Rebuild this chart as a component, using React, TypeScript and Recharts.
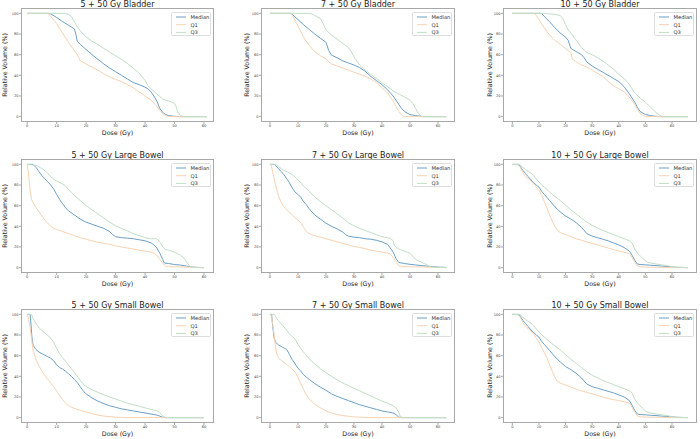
import { LineChart, Line, XAxis, YAxis } from 'recharts';

type Pt = [number, number];

// ---- Bladder ----
const bladder5Median: Pt[] = [[0, 100], [7, 100], [8, 99.5], [10, 96], [12, 92], [14, 88.5], [16, 85], [16.5, 80], [17, 73], [18, 70], [20, 65], [22, 60], [24, 55.5], [26, 51], [28, 47], [30, 43.5], [32, 40], [34, 36.5], [36, 33], [38, 31], [40, 28.5], [41, 27], [42, 24], [43, 20], [44, 15], [45, 8], [46, 4], [47, 2], [48, 1], [50, 0.3], [52, 0], [61, 0]];
const bladder5Q1: Pt[] = [[0, 100], [7, 100], [8, 97], [10, 90], [12, 81], [14, 72], [16, 64], [17, 60], [17.5, 57], [18, 54], [20, 51], [22, 48], [24, 45], [26, 41.5], [28, 38.5], [30, 36], [32, 34], [34, 31], [36, 28], [38, 24], [40, 20], [42, 16], [44, 10], [45, 6], [46, 3], [47, 1], [48, 0], [61, 0]];
const bladder5Q3: Pt[] = [[0, 100], [13, 100], [14, 99], [15, 97], [16, 92], [17, 87], [18, 83], [20, 77], [22, 73], [24, 70], [26, 66], [28, 62.5], [30, 59], [32, 55.5], [34, 51.5], [36, 47], [38, 42], [40, 35], [41, 30], [42, 27], [44, 22], [46, 17], [48, 15], [50, 13], [50.5, 10], [51, 5], [52, 1], [53, 0], [61, 0]];

const bladder7Median: Pt[] = [[0, 100], [7.5, 100], [8, 99], [10, 94], [12, 89], [14, 84.5], [16, 80], [18, 76], [20, 72], [21, 64], [22, 59.5], [24, 57], [26, 54], [28, 52], [30, 50], [32, 47.5], [34, 44], [36, 39], [38, 35], [40, 31], [42, 26], [44, 20], [46, 12], [47, 8], [48, 5], [50, 2], [52, 1], [54, 0.3], [55, 0], [63, 0]];
const bladder7Q1: Pt[] = [[0, 100], [7.5, 100], [8, 98], [10, 88], [12, 77], [14, 69], [16, 63], [18, 59], [20, 56], [21, 53], [22, 51], [24, 49], [26, 47], [28, 45], [30, 43], [32, 41], [34, 39], [36, 36.5], [38, 33], [40, 28], [42, 23], [44, 15], [45, 10], [46, 5], [47, 1.5], [48, 0], [63, 0]];
const bladder7Q3: Pt[] = [[0, 100], [14, 100], [15, 99.5], [16, 98], [18, 95], [19, 90], [20, 84], [22, 79], [24, 75], [26, 71], [28, 67], [29, 63], [30, 58], [32, 50], [34, 45], [36, 41], [38, 37], [40, 33], [42, 29], [44, 25], [46, 22], [48, 19], [50, 16], [51, 13], [52, 8], [53, 3], [54, 0.5], [55, 0], [63, 0]];

const bladder10Median: Pt[] = [[0, 100], [11, 100], [12, 97], [14, 92], [16, 86], [18, 81], [20, 77], [21, 74], [22, 66], [24, 63], [26, 60], [27, 57], [28, 53], [30, 49], [32, 46], [34, 43], [36, 40], [38, 37], [40, 34], [42, 29], [44, 22], [46, 14], [47, 9], [48, 5], [50, 2], [52, 1], [54, 0.3], [56, 0], [66, 0]];
const bladder10Q1: Pt[] = [[0, 100], [8.5, 100], [9, 98], [10, 94], [12, 86], [14, 79], [16, 74], [18, 70], [20, 66], [22, 62], [22.5, 56], [24, 53], [26, 50], [28, 48], [30, 45], [32, 42], [34, 39], [36, 34], [38, 30], [40, 27], [42, 24], [44, 19], [46, 12], [47, 7], [48, 3], [49, 1], [50, 0], [66, 0]];
const bladder10Q3: Pt[] = [[0, 100], [12, 100], [14, 99.5], [16, 99], [18, 98], [19, 95], [20, 89], [21, 84], [22, 81], [24, 74], [26, 67], [28, 62], [30, 60], [32, 57], [34, 54], [36, 50], [38, 46], [40, 41], [42, 37], [44, 31], [46, 23], [48, 18], [50, 14], [52, 9], [54, 4], [55, 2], [56, 0.5], [58, 0], [66, 0]];

// ---- Large bowel ----
const lbowel5Median: Pt[] = [[0, 100], [2, 100], [3, 97], [4, 93], [5, 89], [6, 86], [7, 83], [8, 80], [9, 76], [10, 71], [11, 66], [12, 62], [13, 58], [14, 55], [16, 51], [18, 47], [20, 44], [22, 42], [24, 40], [26, 38], [28, 35], [29, 32], [30, 30], [32, 29], [34, 28.5], [36, 28], [38, 27], [40, 26], [42, 24], [43, 22], [44, 19], [45, 14], [46, 8], [46.5, 4.5], [48, 4], [50, 3], [52, 2.5], [54, 1.5], [55, 1], [56, 0.5], [58, 0.2], [60, 0]];
const lbowel5Q1: Pt[] = [[0, 100], [0.5, 90], [1, 75], [1.5, 66], [2, 63], [3, 58], [4, 54], [5, 50], [6, 46], [7, 43], [8, 40], [9, 38], [10, 37], [12, 35], [14, 33], [16, 31], [18, 29], [20, 27.5], [22, 26], [24, 24.5], [26, 23.5], [28, 22.5], [30, 21], [32, 20], [34, 19], [36, 18], [38, 17], [40, 16], [42, 15], [43, 14], [44, 12], [45, 8], [46, 4], [47, 1.5], [48, 1], [50, 0.8], [55, 0.5], [60, 0]];
const lbowel5Q3: Pt[] = [[0, 100], [3, 99], [4, 97.5], [5, 96], [6, 94], [7, 91], [8, 88], [9, 85.5], [10, 84], [12, 81], [13, 79], [14, 76], [16, 70], [18, 65], [20, 60], [22, 56], [24, 52], [26, 48], [28, 44], [30, 40.5], [32, 38], [34, 35.5], [36, 33], [38, 31], [40, 29], [42, 28], [44, 28], [45, 25], [46, 20], [47, 17.5], [48, 17], [50, 15], [52, 12], [53, 10], [54, 6], [55, 2], [56, 0.5], [58, 0], [60, 0]];

const lbowel7Median: Pt[] = [[0, 100], [1.5, 100], [2, 99], [3, 96], [4, 93], [5, 90], [6, 86], [7, 82], [8, 77], [9, 73], [10, 71], [11, 68], [12, 64], [13, 61], [14, 57], [16, 51], [18, 47], [20, 43], [22, 40], [24, 37.5], [26, 34.5], [27, 32], [28, 30.5], [30, 29.5], [32, 29], [34, 28], [36, 27.5], [38, 26.5], [40, 25], [42, 22.5], [43, 19], [44, 15], [45, 9], [46, 5], [48, 4], [50, 3.2], [52, 2.6], [54, 2], [56, 1.5], [58, 1], [60, 0.5], [63, 0.2]];
const lbowel7Q1: Pt[] = [[0, 100], [0.5, 99], [1, 92], [2, 80], [3, 70], [4, 63], [5, 59], [6, 56], [7, 53.5], [8, 51], [9, 48.5], [10, 46], [11, 43.5], [12, 39], [13, 35], [14, 33], [16, 31], [18, 29.5], [20, 28], [22, 26.5], [24, 25], [26, 23.5], [28, 22], [30, 20.5], [32, 19.5], [34, 18.5], [36, 17], [38, 16], [40, 15], [42, 14], [43, 13], [44, 10], [45, 6], [46, 2], [47, 1], [50, 0.8], [55, 0.6], [60, 0.3], [63, 0]];
const lbowel7Q3: Pt[] = [[0, 100], [2, 100], [3, 98], [4, 96], [5, 94], [6, 93], [7, 91.5], [8, 90], [9, 87.5], [10, 85], [11, 82.5], [12, 79], [14, 74], [16, 68.5], [18, 64], [20, 60], [22, 56], [24, 52], [26, 48], [28, 43.5], [30, 40.5], [32, 38], [34, 36], [36, 34], [38, 32], [40, 30], [42, 29], [43, 28.5], [44, 26], [44.5, 21], [46, 18], [48, 16], [50, 14], [51, 11], [52, 8], [53, 6.5], [54, 5.5], [55, 4], [56, 3], [57, 1], [58, 0.5], [60, 0.2], [63, 0]];

const lbowel10Median: Pt[] = [[0, 100], [2.5, 100], [3, 98], [4, 94], [5, 91], [6, 88], [7, 85], [8, 82.5], [9, 80], [10, 78], [11, 74], [12, 71], [13, 68], [14, 65], [16, 59], [18, 54], [20, 50], [22, 47], [24, 43.5], [26, 39], [28, 33], [30, 30.5], [32, 29], [34, 27.5], [36, 26], [38, 24], [40, 22], [42, 19.5], [44, 16], [45, 12], [46, 7], [47, 3.5], [48, 3], [50, 2.7], [52, 2.3], [54, 2], [56, 1.5], [58, 1.2], [60, 0.6], [62, 0.3], [66, 0]];
const lbowel10Q1: Pt[] = [[0, 100], [2, 100], [3, 97], [4, 92], [5, 88], [6, 86], [7, 84], [8, 81], [9, 78], [10, 75], [11, 70], [12, 64], [13, 58], [14, 51], [15, 45], [16, 40], [17, 36], [18, 34], [20, 32], [22, 30], [24, 28], [26, 26.5], [28, 25], [30, 23.5], [32, 22], [34, 20.5], [36, 19], [38, 17.5], [40, 16], [42, 15], [44, 13.5], [45, 10], [46, 5], [47, 1.5], [48, 0.8], [50, 0.5], [55, 0.3], [60, 0.1], [66, 0]];
const lbowel10Q3: Pt[] = [[0, 100], [3, 99.5], [4, 97], [5, 95], [6, 93], [7, 91.5], [8, 89], [9, 86], [10, 83], [11, 80], [12, 78], [13, 76], [14, 73], [16, 69], [18, 65], [20, 60.5], [22, 56], [24, 52], [26, 48], [28, 44], [30, 41], [32, 38.5], [34, 36], [36, 34], [38, 32], [40, 30], [42, 28], [44, 26], [45, 24], [46, 18], [47, 14], [48, 11.5], [49, 9], [50, 6.5], [51, 5], [52, 4.5], [54, 3.5], [56, 2.8], [58, 2], [60, 1], [62, 0.3], [66, 0]];

// ---- Small bowel ----
const sbowel5Median: Pt[] = [[0, 100], [1, 100], [1.3, 90], [1.6, 78], [2, 70], [3, 66], [4, 63.5], [5, 62], [6, 60.5], [7, 59], [8, 57.5], [9, 55], [10, 51], [11, 48.5], [12, 47], [13, 45], [14, 42.5], [15, 40], [16, 37], [17, 34], [18, 30], [19, 26], [20, 23], [22, 19], [24, 16], [26, 13.5], [28, 11.5], [30, 10], [32, 8.5], [34, 7.5], [36, 6.5], [38, 5.5], [40, 4.5], [42, 3.5], [44, 2.5], [45, 1.5], [46, 0.3], [47, 0], [60, 0]];
const sbowel5Q1: Pt[] = [[0, 100], [0.5, 95], [1, 87], [1.5, 76], [2, 65], [3, 56], [4, 50], [5, 45], [6, 41], [7, 37], [8, 33.5], [9, 30], [10, 26], [11, 21.5], [12, 17.5], [13, 14], [14, 11.5], [15, 10], [16, 9], [18, 7], [20, 5.5], [22, 4], [24, 2.5], [26, 1.5], [28, 1], [30, 0.5], [32, 0.2], [35, 0], [60, 0]];
const sbowel5Q3: Pt[] = [[0, 100], [1.5, 100], [2, 96], [3, 91], [4, 87], [5, 84.5], [6, 82], [7, 79.5], [8, 77], [9, 73], [10, 67], [11, 62], [12, 58], [13, 54.5], [14, 51], [15, 47.5], [16, 44], [17, 40], [18, 36], [19, 32.5], [20, 30], [22, 27], [24, 24.5], [26, 22], [28, 20], [30, 18], [32, 16], [34, 14], [36, 12.5], [38, 11], [40, 9.5], [42, 8], [44, 6.5], [45, 5], [46, 1.5], [47, 0], [60, 0]];

const sbowel7Median: Pt[] = [[0, 100], [0.6, 100], [1, 88], [1.5, 77], [2, 73], [3, 70.5], [4, 69], [5, 67.5], [6, 66], [7, 61], [8, 56], [9, 52], [10, 48], [11, 45], [12, 41.5], [14, 37], [16, 33], [18, 29.5], [20, 26.5], [22, 23], [24, 20.5], [26, 18.5], [28, 16.5], [30, 14.5], [32, 12.5], [34, 11], [36, 9.5], [38, 8], [40, 6.5], [42, 5.5], [44, 4.5], [45, 3], [46, 0.5], [47, 0], [63, 0]];
const sbowel7Q1: Pt[] = [[0, 100], [0.6, 98], [1, 90], [1.5, 80], [2, 68], [2.5, 61], [3, 58], [4, 55.5], [5, 53.5], [6, 51.5], [7, 49.5], [8, 47], [9, 44], [10, 39], [11, 33], [12, 27], [13, 22], [14, 18], [16, 13], [18, 9.5], [20, 6.5], [22, 4.5], [24, 3], [26, 2], [28, 1.3], [30, 0.8], [33, 0.3], [36, 0], [63, 0]];
const sbowel7Q3: Pt[] = [[0, 100], [1.5, 100], [2, 98], [3, 94], [4, 91], [5, 88], [6, 84.5], [7, 81], [8, 78.5], [9, 76], [10, 71], [11, 67], [12, 63.5], [14, 57], [16, 52], [18, 47.5], [20, 43.5], [22, 40], [24, 36.5], [26, 33.5], [28, 31], [30, 28.5], [32, 26], [34, 23.5], [36, 21], [38, 18.5], [40, 16], [42, 14], [44, 11.5], [45, 9.5], [46, 5], [46.5, 1.5], [47, 0.5], [48, 0], [63, 0]];

const sbowel10Median: Pt[] = [[0, 100], [2.5, 100], [3, 98], [4, 94], [5, 91], [6, 88], [7, 85], [8, 82.5], [9, 80], [10, 78], [11, 74], [12, 71], [13, 68], [14, 65], [16, 59], [18, 54], [20, 49.5], [22, 46.5], [24, 43], [26, 38.5], [28, 32.5], [30, 30], [32, 28.5], [34, 27], [36, 25.5], [38, 24], [40, 22], [42, 20], [44, 16.5], [45, 12], [46, 7], [47, 3.5], [48, 3], [50, 2.7], [52, 2.3], [54, 2], [56, 1.5], [58, 1.2], [60, 0.6], [62, 0.3], [66, 0]];
const sbowel10Q1: Pt[] = [[0, 100], [2, 100], [3, 97], [4, 92], [5, 88], [6, 86], [7, 84], [8, 81], [9, 77], [10, 73], [11, 68], [12, 63], [13, 58], [14, 51], [15, 45], [16, 39], [17, 35], [18, 33.5], [20, 31.5], [22, 29.5], [24, 27.5], [26, 26], [28, 24.5], [30, 23], [32, 21.5], [34, 20], [36, 18.5], [38, 17.5], [40, 16.5], [42, 15.5], [44, 14], [45, 10], [46, 5], [47, 1.5], [48, 0.8], [50, 0.5], [55, 0.3], [60, 0.1], [66, 0]];
const sbowel10Q3: Pt[] = [[0, 100], [3, 99.5], [4, 97], [5, 95], [6, 93], [7, 91.5], [8, 89], [9, 86], [10, 83], [11, 80.5], [12, 78], [13, 76], [14, 73.5], [16, 69.5], [18, 65.5], [20, 61], [22, 56.5], [24, 52.5], [26, 48.5], [28, 44.5], [30, 41], [32, 38.5], [34, 36], [36, 34], [38, 32], [40, 30], [42, 28], [44, 26], [45, 24], [46, 18], [47, 14], [48, 11.5], [49, 9], [50, 6.5], [51, 5], [52, 4.5], [54, 3.5], [56, 2.8], [58, 2], [60, 1], [62, 0.3], [66, 0]];

const X_TICKS = [0, 10, 20, 30, 40, 50, 60];
const Y_TICKS = [0, 20, 40, 60, 80, 100];
const SERIES_NAMES = ['Median', 'Q1', 'Q3'];
const COLORS = ['#6c9fc6', '#f8d2b2', '#c0dfc5'];

const FONT = '"DejaVu Sans", sans-serif';

// axes box geometry per grid column / row (pixels)
const COLS = [
  { left: 21, width: 193, domain: [-2.1, 63.4], ylabelX: 4.7 },
  { left: 261, width: 194, domain: [-3.2, 66.1], ylabelX: 246.7 },
  { left: 503, width: 194, domain: [-3.5, 69.4], ylabelX: 489 },
];
const ROWS = [
  { top: 8, height: 114 },
  { top: 159, height: 114 },
  { top: 309, height: 114 },
];

const PANELS = [
  { row: 0, col: 0, title: '5 + 50 Gy Bladder', series: [bladder5Median, bladder5Q1, bladder5Q3] },
  { row: 0, col: 1, title: '7 + 50 Gy Bladder', series: [bladder7Median, bladder7Q1, bladder7Q3] },
  { row: 0, col: 2, title: '10 + 50 Gy Bladder', series: [bladder10Median, bladder10Q1, bladder10Q3] },
  { row: 1, col: 0, title: '5 + 50 Gy Large Bowel', series: [lbowel5Median, lbowel5Q1, lbowel5Q3] },
  { row: 1, col: 1, title: '7 + 50 Gy Large Bowel', series: [lbowel7Median, lbowel7Q1, lbowel7Q3] },
  { row: 1, col: 2, title: '10 + 50 Gy Large Bowel', series: [lbowel10Median, lbowel10Q1, lbowel10Q3] },
  { row: 2, col: 0, title: '5 + 50 Gy Small Bowel', series: [sbowel5Median, sbowel5Q1, sbowel5Q3] },
  { row: 2, col: 1, title: '7 + 50 Gy Small Bowel', series: [sbowel7Median, sbowel7Q1, sbowel7Q3] },
  { row: 2, col: 2, title: '10 + 50 Gy Small Bowel', series: [sbowel10Median, sbowel10Q1, sbowel10Q3] },
];

const toRows = (pts: Pt[]) => pts.map(([dose, volume]) => ({ dose, volume }));

const YW = 16;
const XH = 8;

function DvhLegend({ right, top }: { right: number; top: number }) {
  return (
    <div
      style={{
        position: 'absolute',
        left: right - 43,
        top: top + 3.5,
        width: 40,
        height: 24,
        border: '0.6px solid #ddd',
        borderRadius: 1.5,
        background: '#fff',
        boxSizing: 'border-box',
      }}
    >
      <svg width={40} height={24} style={{ position: 'absolute', left: 0, top: 0 }}>
        {SERIES_NAMES.map((name, i) => (
          <g key={name}>
            <line x1={4} x2={14} y1={4 + i * 7.7} y2={4 + i * 7.7} stroke={COLORS[i]} strokeWidth={1} />
            <text x={18.5} y={4 + i * 7.7} dy="0.35em" fontSize={5.2} fill="#333" fontFamily={FONT}>
              {name}
            </text>
          </g>
        ))}
      </svg>
    </div>
  );
}

function Panel({ row, col, title, series }: { row: number; col: number; title: string; series: Pt[][] }) {
  const c = COLS[col];
  const r = ROWS[row];
  return (
    <>
      <div
        style={{
          position: 'absolute',
          left: c.left,
          top: Math.max(0, r.top - 8.5),
          width: c.width,
          textAlign: 'center',
          fontSize: 8,
          lineHeight: '9px',
          color: '#222',
          whiteSpace: 'nowrap',
        }}
      >
        {title}
      </div>
      <div style={{ position: 'absolute', left: c.left - YW, top: r.top }}>
        <LineChart width={YW + c.width} height={r.height + XH} margin={{ top: 0, right: 0, bottom: 0, left: 0 }}>
          <XAxis
            type="number"
            dataKey="dose"
            domain={c.domain}
            ticks={X_TICKS}
            allowDataOverflow
            height={XH}
            axisLine={false}
            tickSize={2}
            tickMargin={0.5}
            tickLine={{ stroke: '#555', strokeWidth: 0.5 }}
            tick={{ fontSize: 3.6, fill: '#444', fontFamily: FONT }}
          />
          <YAxis
            type="number"
            domain={[-5.2, 105.2]}
            ticks={Y_TICKS}
            allowDataOverflow
            width={YW}
            axisLine={false}
            tickSize={2}
            tickMargin={0.5}
            tickLine={{ stroke: '#555', strokeWidth: 0.5 }}
            tick={{ fontSize: 3.6, fill: '#444', fontFamily: FONT }}
          />
          {series.map((pts, i) => (
            <Line
              key={SERIES_NAMES[i]}
              data={toRows(pts)}
              dataKey="volume"
              name={SERIES_NAMES[i]}
              type="linear"
              dot={false}
              stroke={COLORS[i]}
              strokeWidth={1}
              isAnimationActive={false}
            />
          ))}
        </LineChart>
      </div>
      <div
        style={{
          position: 'absolute',
          left: c.left,
          top: r.top,
          width: c.width,
          height: r.height,
          border: '0.8px solid #a8a8a8',
          boxSizing: 'border-box',
          pointerEvents: 'none',
        }}
      />
      <DvhLegend right={c.left + c.width} top={r.top} />
      <div
        style={{
          position: 'absolute',
          left: c.left,
          top: r.top + r.height + 7,
          width: c.width,
          textAlign: 'center',
          fontSize: 6.3,
          lineHeight: '7px',
          color: '#222',
        }}
      >
        Dose (Gy)
      </div>
      {/* rotated axis label: pivot on its top-left corner so its box never sits at a negative offset */}
      <div
        style={{
          position: 'absolute',
          left: c.ylabelX - 3.5,
          top: r.top + r.height / 2 + 40,
          width: 80,
          textAlign: 'center',
          fontSize: 6.3,
          lineHeight: '7px',
          color: '#222',
          transformOrigin: '0 0',
          transform: 'rotate(-90deg)',
          whiteSpace: 'nowrap',
        }}
      >
        Relative Volume (%)
      </div>
    </>
  );
}

export default function App() {
  return (
    <div
      style={{
        position: 'absolute',
        left: 0,
        top: 0,
        width: 700,
        height: 439,
        background: '#fff',
        fontFamily: FONT,
        overflow: 'hidden',
      }}
    >
      {PANELS.map((p) => (
        <Panel key={p.title} {...p} />
      ))}
    </div>
  );
}
